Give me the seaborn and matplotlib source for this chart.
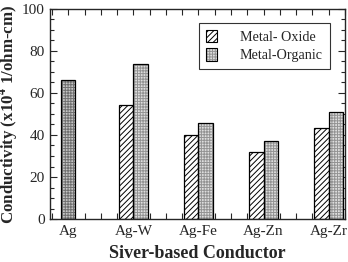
import numpy as np
import pandas as pd
import seaborn as sns
import matplotlib as mpl
import matplotlib.pyplot as plt
from matplotlib.ticker import MultipleLocator

# values
conductors = ["Ag", "Ag-W", "Ag-Fe", "Ag-Zn", "Ag-Zr"]
oxide = [np.nan, 54.5, 40.0, 32.0, 43.5]
organic = [66.0, 74.0, 45.5, 37.2, 51.0]
series = ["Metal- Oxide", "Metal-Organic"]

sns.set_theme(style="ticks")
mpl.rcParams["font.family"] = ["Liberation Serif", "DejaVu Serif"]
mpl.rcParams["hatch.linewidth"] = 0.7
mpl.rcParams["mathtext.fontset"] = "stix"

rows = []
for c, o, g in zip(conductors, oxide, organic):
    if not np.isnan(o):
        rows.append({"conductor": c, "series": series[0], "value": o})
    rows.append({"conductor": c, "series": series[1], "value": g})
df = pd.DataFrame(rows)

fig = plt.figure(figsize=(3.48, 2.62), dpi=100)
ax = fig.add_axes([0.144, 0.164, 0.847, 0.802])

faces = ["white", "#dedede"]
hatches = ["//////", "++++++"]
hatch_cols = ["black", "#939393"]

# filled, hatched bars (hatch takes the edge colour) ...
sns.barplot(data=df, x="conductor", y="value", hue="series", order=conductors,
            hue_order=series, width=0.44, ax=ax, legend=False,
            palette=faces, linewidth=0, saturation=1)
# ... then black outlines on top
sns.barplot(data=df, x="conductor", y="value", hue="series", order=conductors,
            hue_order=series, width=0.44, ax=ax, legend=False, fill=False,
            palette=["black", "black"], linewidth=0.9)

for cont, h, hc in zip(ax.containers[:2], hatches, hatch_cols):
    for bar in cont:
        bar.set_hatch(h)
        bar.set_edgecolor(hc)

# the plain Ag bar has no partner, so centre it on its category
for cont in (ax.containers[1], ax.containers[3]):
    ag_bar = cont[0]
    ag_bar.set_x(ag_bar.get_x() - ag_bar.get_width() / 2)
ax.containers[1][0].set_facecolor("#c6c6c6")
ax.containers[1][0].set_edgecolor("#707070")

handles = []
for h, fc, hc in zip(hatches, faces, hatch_cols):
    fill = mpl.patches.Patch(facecolor=fc, edgecolor=hc, hatch=h, linewidth=0)
    outline = mpl.patches.Patch(fill=False, edgecolor="black", linewidth=0.8)
    handles.append((fill, outline))
leg = ax.legend(handles, series, loc="upper right", bbox_to_anchor=(0.95, 0.935),
                frameon=True, fancybox=False, edgecolor="black",
                prop={"family": "Liberation Serif", "size": 10.2},
                handlelength=0.8, handleheight=1.0, handletextpad=1.6,
                borderpad=0.5, labelspacing=0.3, borderaxespad=0.0)
leg.get_frame().set_linewidth(0.8)

ax.set_xlim(-0.28, 4.25)
ax.set_ylim(0, 100)
ax.yaxis.set_major_locator(MultipleLocator(20))
ax.yaxis.set_minor_locator(MultipleLocator(5))
ax.xaxis.set_minor_locator(MultipleLocator(0.25))
ax.set_xticks(range(len(conductors)), conductors)

ax.tick_params(which="both", direction="in", top=True, right=True, labelsize=11, pad=4)
ax.tick_params(axis="y", which="major", length=5, width=0.8)
ax.tick_params(axis="y", which="minor", length=3, width=0.8)
ax.tick_params(axis="x", which="both", length=4, width=0.8)
for s in ax.spines.values():
    s.set_linewidth(1.0)
    s.set_visible(True)

ax.set_xlabel("Siver-based Conductor", fontsize=13, fontweight="bold", labelpad=5)
ax.set_ylabel(r"Conductivity (x10$^{\mathbf{4}}$ 1/ohm-cm)", fontsize=12.2,
              fontweight="bold", labelpad=0.5)

fig.savefig("out.png", dpi=100)
